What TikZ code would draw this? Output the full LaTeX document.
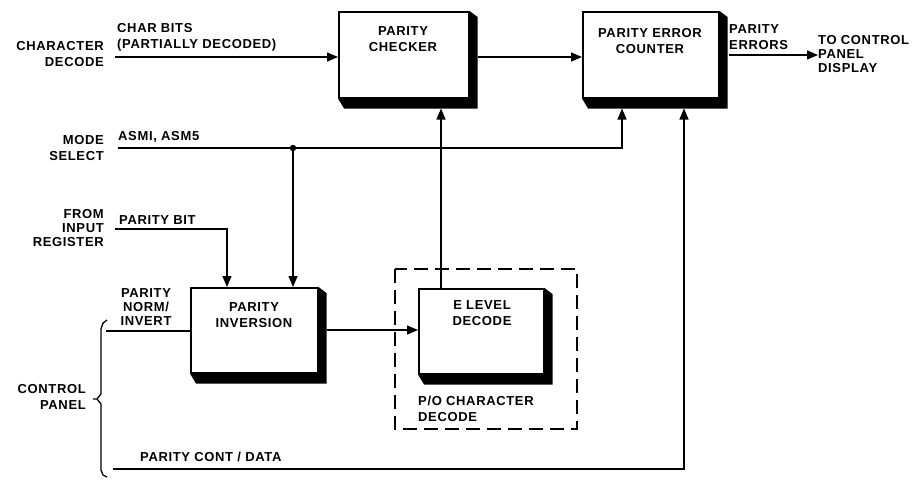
\documentclass[tikz,border=0pt]{standalone}
\usepackage{fontspec}
\setmainfont{Liberation Sans}
\newfontfamily\lblfont[LetterSpace=5]{Liberation Sans}
\usetikzlibrary{arrows.meta,calc}

\tikzset{
  txt/.style={font=\lblfont\bfseries\fontsize{13}{16}\selectfont, inner sep=0pt, align=#1},
  txt/.default=left,
  tight/.style={font=\lblfont\bfseries\fontsize{13}{14}\selectfont},
  blk/.style={draw, line width=1.5pt, fill=white, anchor=north west, inner sep=0pt},
  wire/.style={line width=1.3pt},
  arr/.style={wire, -{Triangle[length=11pt,width=9pt]}},
  shade/.style={fill=black},
}
% shadow band drawn along the right and bottom of a block
\newcommand{\blockshadow}[1]{%
  \fill[shade] (#1.north east) -- ([shift={(8,6)}]#1.north east)
    -- ([shift={(8,10)}]#1.south east) -- ([shift={(6,10)}]#1.south west)
    -- (#1.south west) -- (#1.south east) -- cycle;}

\begin{document}
\begin{tikzpicture}[x=1pt,y=-1pt]
\useasboundingbox (0,0) rectangle (915,480);

% blocks
\node[blk, minimum width=130pt, minimum height=86pt] (chk) at (338,11) {};
\node[blk, minimum width=136pt, minimum height=86pt] (cnt) at (582,11) {};
\node[blk, minimum width=127pt, minimum height=85pt] (inv) at (190,287) {};
\node[blk, minimum width=125pt, minimum height=85pt] (eld) at (418,288) {};
\blockshadow{chk}
\blockshadow{cnt}
\blockshadow{inv}
\blockshadow{eld}

% dashed enclosure
\draw[line width=1.4pt, dash pattern=on 14pt off 7pt] (395,269) rectangle (577,429);

% block titles
\node[txt=center] (chkT) at (403,39) {PARITY\\CHECKER};
\node[txt=center] (cntT) at (650,41) {PARITY ERROR\\COUNTER};
\node[txt=center] (invT) at (254,315) {PARITY\\INVERSION};
\node[txt=center] (eldT) at (482,313) {E LEVEL\\DECODE};
\node[txt, anchor=west] (poT) at (418,409) {P/O CHARACTER\\DECODE};

% source labels
\node[txt=right, anchor=east] (cdec) at (104,54) {CHARACTER\\DECODE};
\node[txt, anchor=west] (cbits) at (117,37) {CHAR BITS\\(PARTIALLY DECODED)};
\node[txt=right, anchor=east] (msel) at (104,148) {MODE\\SELECT};
\node[txt, anchor=west] (asm) at (118,137) {ASMI, ASM5};
\node[txt=right, tight, anchor=east] (fir) at (104,228) {FROM\\INPUT\\REGISTER};
\node[txt, anchor=west] (pbit) at (119,220) {PARITY BIT};
\node[txt=center, tight] (pni) at (146,307) {PARITY\\NORM/\\INVERT};
\node[txt=right, anchor=east] (cpan) at (86,397) {CONTROL\\PANEL};
\node[txt, anchor=west] (pcd) at (140,457) {PARITY CONT / DATA};
\node[txt, anchor=west] (perr) at (729,37) {PARITY\\ERRORS};
\node[txt, tight, anchor=west] (disp) at (818,54) {TO CONTROL\\PANEL\\DISPLAY};

% control panel brace
\draw[line width=1.3pt] (107,320) -- (103,323) -- (101,329) -- (101,394)
  -- (97,399) -- (93,399) (97,399) -- (101,404) -- (101,470) -- (103,475) -- (107,477);

% connector end points
\coordinate (cdIn) at (115,57);
\coordinate (msIn) at (118,148);
\coordinate (jn)   at (293,148);
\coordinate (pbIn) at (115,229);
\coordinate (pnIn) at (106,331);
\coordinate (pcIn) at (113,469);

% connectors
\draw[arr] (cdIn) -- (cdIn -| chk.west);
\draw[arr] ([xshift=8pt]chk.east |- cdIn) -- (cdIn -| cnt.west);
\draw[arr] ([xshift=9pt]cnt.east |- 0,55) -- (disp.west |- 0,55);
\draw[arr] (msIn) -| ([xshift=40pt,yshift=-10pt]cnt.south west);
\draw[arr] (jn) -- (jn |- inv.north);
\fill (jn) circle (3.2pt);
\draw[arr] (pbIn) -| ([xshift=37pt]inv.north west);
\draw[wire] (pnIn) -- (pnIn -| inv.west);
\draw[arr] ([xshift=8pt]inv.east |- 0,330) -- (eld.west |- 0,330);
\draw[arr] ([xshift=23pt]eld.north west) -- ([xshift=103pt,yshift=-10pt]chk.south west);
\draw[arr] (pcIn) -| ([xshift=102pt,yshift=-10pt]cnt.south west);

\end{tikzpicture}
\end{document}
